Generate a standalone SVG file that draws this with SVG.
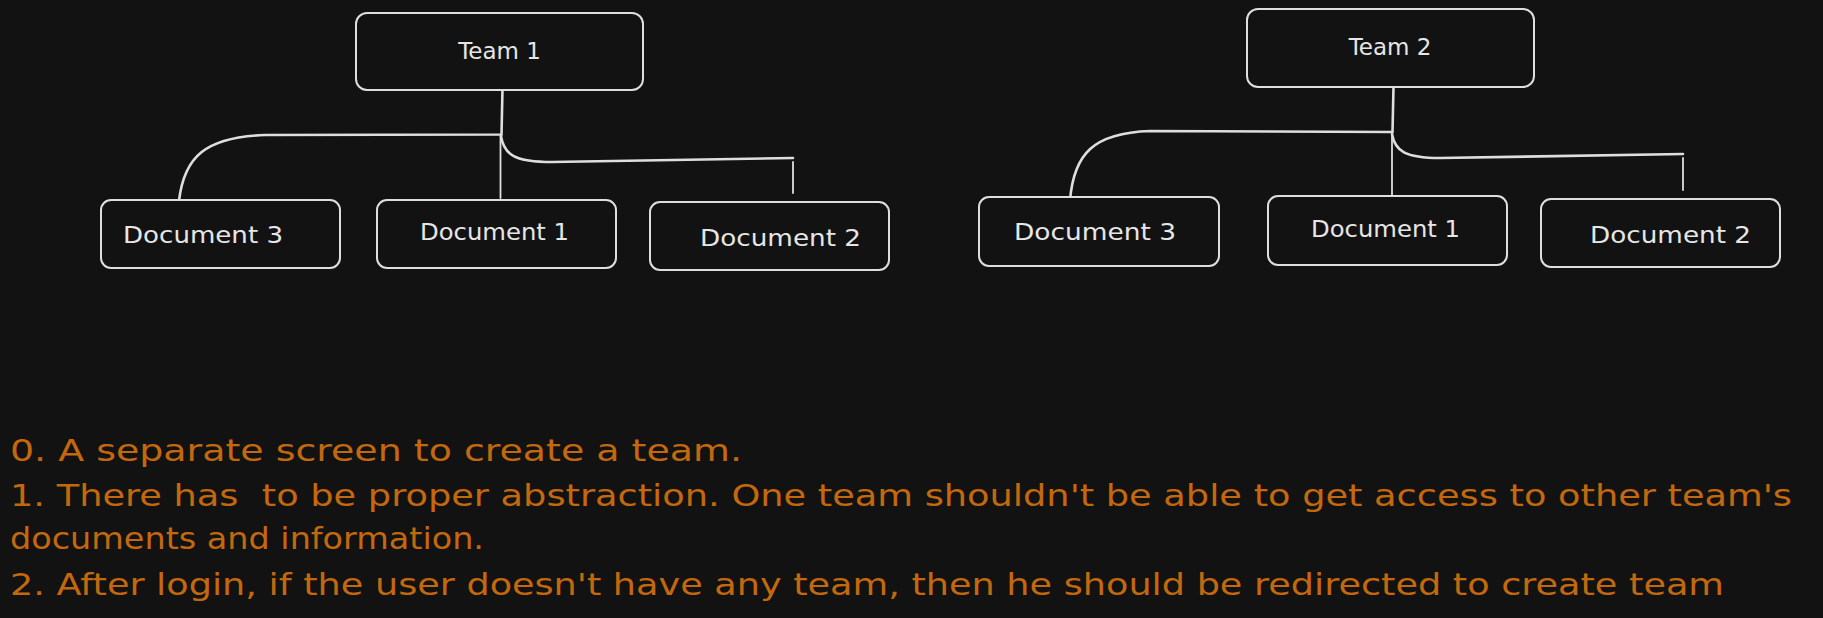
<svg xmlns="http://www.w3.org/2000/svg" width="1823" height="618" viewBox="0 0 1823 618">
<style>
.box{fill:#121212;stroke:#dedede;stroke-width:2}
.lbl{font-family:"DejaVu Sans",sans-serif;font-size:23px;fill:#e6e6e6;text-anchor:middle}
.con{fill:none;stroke:#dedede;stroke-width:2.6;stroke-linecap:round}
.thin{stroke-width:1.8}
.note{font-family:"DejaVu Sans",sans-serif;font-size:31px;fill:#c4680e}
</style>
<rect width="1823" height="618" fill="#121212"/>
<g id="connectors">
<path class="con" d="M502.5,89 L501.5,134.5 L265,135 C205,137 184,157 179,201"/>
<path class="con" d="M501,136 C504,155 515,162 552,162 L793,158"/>
<path class="con thin" d="M500.5,136 L500.5,198"/>
<path class="con thin" d="M793,162 L793,193"/>
<path class="con" d="M1393.5,87 L1392.5,132 L1150,131 C1093,133 1074,154 1070,200"/>
<path class="con" d="M1392,134 C1395,151 1405,158 1440,158 L1683,154"/>
<path class="con thin" d="M1392,134 L1392,196"/>
<path class="con thin" d="M1683,158 L1683,190"/>
</g>
<g id="team1"><rect class="box" x="356" y="13" width="287" height="77" rx="11"/><text class="lbl" x="499.5" y="59">Team 1</text></g>
<g id="t1doc3"><rect class="box" x="101" y="200" width="239" height="68" rx="10"/><text class="lbl" x="203" y="243" textLength="160" lengthAdjust="spacingAndGlyphs">Document 3</text></g>
<g id="t1doc1"><rect class="box" x="377" y="200" width="239" height="68" rx="10"/><text class="lbl" x="494.5" y="240" textLength="149" lengthAdjust="spacingAndGlyphs">Document 1</text></g>
<g id="t1doc2"><rect class="box" x="650" y="202" width="239" height="68" rx="10"/><text class="lbl" x="780.5" y="246" textLength="161" lengthAdjust="spacingAndGlyphs">Document 2</text></g>
<g id="team2"><rect class="box" x="1247" y="9" width="287" height="78" rx="11"/><text class="lbl" x="1390" y="55">Team 2</text></g>
<g id="t2doc3"><rect class="box" x="979" y="197" width="240" height="69" rx="10"/><text class="lbl" x="1095" y="240" textLength="162" lengthAdjust="spacingAndGlyphs">Document 3</text></g>
<g id="t2doc1"><rect class="box" x="1268" y="196" width="239" height="69" rx="10"/><text class="lbl" x="1385.5" y="237" textLength="149" lengthAdjust="spacingAndGlyphs">Document 1</text></g>
<g id="t2doc2"><rect class="box" x="1541" y="199" width="239" height="68" rx="10"/><text class="lbl" x="1670.5" y="243" textLength="161" lengthAdjust="spacingAndGlyphs">Document 2</text></g>
<g id="notes">
<text class="note" x="10" y="461" textLength="732" lengthAdjust="spacingAndGlyphs">0. A separate screen to create a team.</text>
<text class="note" x="10" y="506" textLength="1782" lengthAdjust="spacingAndGlyphs" xml:space="preserve">1. There has  to be proper abstraction. One team shouldn't be able to get access to other team's</text>
<text class="note" x="10" y="549" textLength="474" lengthAdjust="spacingAndGlyphs">documents and information.</text>
<text class="note" x="10" y="595" textLength="1714" lengthAdjust="spacingAndGlyphs">2. After login, if the user doesn't have any team, then he should be redirected to create team</text>
</g>
</svg>
